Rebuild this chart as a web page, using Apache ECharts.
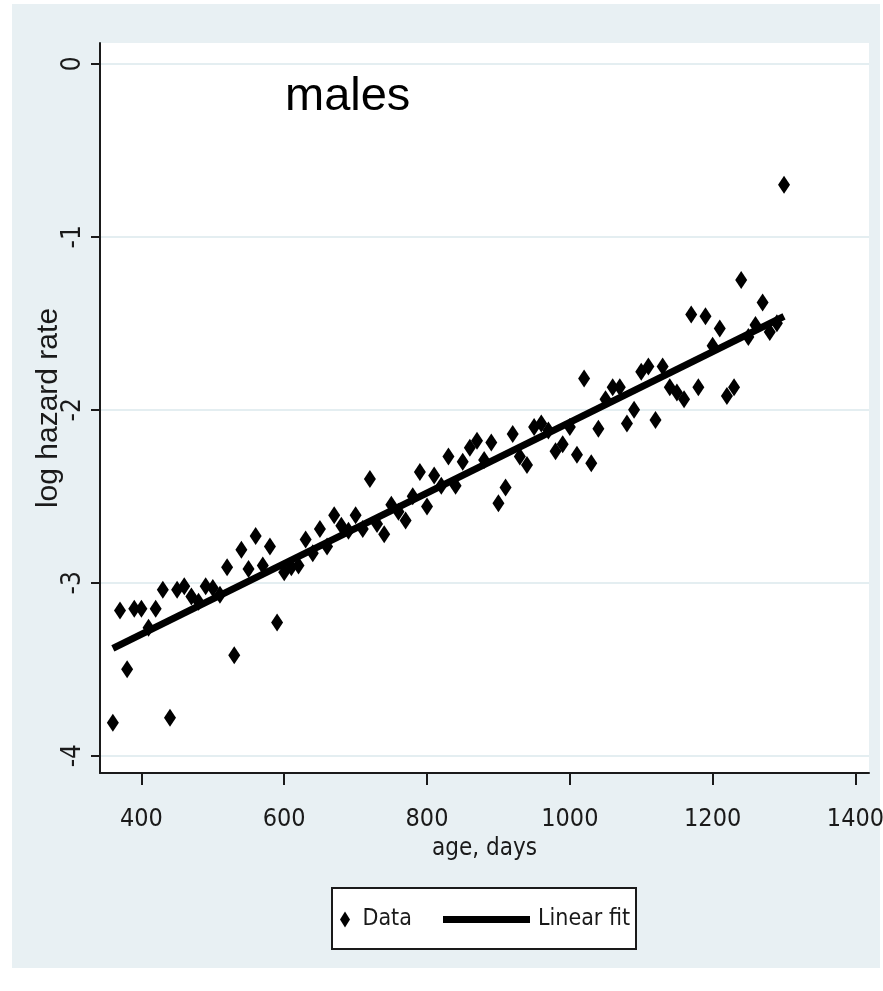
<!DOCTYPE html>
<html>
<head>
<meta charset="utf-8">
<title>log hazard rate - males</title>
<script src="https://cdn.jsdelivr.net/npm/echarts@6.0.0/dist/echarts.min.js"></script>
<style>
  html, body { margin: 0; padding: 0; background: #fff; overflow: hidden; }
  #panel { position: absolute; left: 12px; top: 4px; width: 868px; height: 964px; background: #e8f0f3; }
  #chart { position: absolute; left: 0; top: 0; width: 883px; height: 991px; }
</style>
</head>
<body>
<div id="panel"></div>
<div id="chart"></div>
<script>
// age in days (every 10 days)
var ageDays = [
  360, 370, 380, 390, 400, 410, 420, 430, 440, 450,
  460, 470, 480, 490, 500, 510, 520, 530, 540, 550,
  560, 570, 580, 590, 600, 610, 620, 630, 640, 650,
  660, 670, 680, 690, 700, 710, 720, 730, 740, 750,
  760, 770, 780, 790, 800, 810, 820, 830, 840, 850,
  860, 870, 880, 890, 900, 910, 920, 930, 940, 950,
  960, 970, 980, 990, 1000, 1010, 1020, 1030, 1040, 1050,
  1060, 1070, 1080, 1090, 1100, 1110, 1120, 1130, 1140, 1150,
  1160, 1170, 1180, 1190, 1200, 1210, 1220, 1230, 1240, 1250,
  1260, 1270, 1280, 1290, 1300
];
// log hazard rate
var logHazard = [
  -3.81, -3.16, -3.50, -3.15, -3.15, -3.26, -3.15, -3.04, -3.78, -3.04,
  -3.02, -3.08, -3.11, -3.02, -3.03, -3.07, -2.91, -3.42, -2.81, -2.92,
  -2.73, -2.90, -2.79, -3.23, -2.94, -2.91, -2.90, -2.75, -2.83, -2.69,
  -2.79, -2.61, -2.67, -2.70, -2.61, -2.69, -2.40, -2.66, -2.72, -2.55,
  -2.59, -2.64, -2.50, -2.36, -2.56, -2.38, -2.44, -2.27, -2.44, -2.30,
  -2.22, -2.18, -2.29, -2.19, -2.54, -2.45, -2.14, -2.27, -2.32, -2.10,
  -2.08, -2.12, -2.24, -2.20, -2.10, -2.26, -1.82, -2.31, -2.11, -1.94,
  -1.87, -1.87, -2.08, -2.00, -1.78, -1.75, -2.06, -1.75, -1.87, -1.90,
  -1.94, -1.45, -1.87, -1.46, -1.63, -1.53, -1.92, -1.87, -1.25, -1.58,
  -1.51, -1.38, -1.55, -1.50, -0.70
];
// fitted line end points
var fitX = [360, 1300];
var fitY = [-3.38, -1.46];

var xTicks = [400, 600, 800, 1000, 1200, 1400];
var yTicks = [-4, -3, -2, -1, 0];

var narrow = "'Liberation Sans Narrow', 'Arial Narrow', 'DejaVu Sans Condensed', sans-serif";
var regular = "'Liberation Sans', Arial, sans-serif";

var pts = [];
for (var i = 0; i < ageDays.length; i++) {
  pts.push([ageDays[i], logHazard[i]]);
}
var fitPts = [];
for (var j = 0; j < fitX.length; j++) {
  fitPts.push([fitX[j], fitY[j]]);
}

function plain(v) {
  return String(v);
}

var diamondIcon = "path://M5,0 L10,8 L5,16 L0,8 Z";

var chart = echarts.init(document.getElementById("chart"));
var option = {
  backgroundColor: "transparent",
  animation: false,
  grid: {
    left: 100,
    right: 14,
    top: 43,
    bottom: 218,
    show: true,
    backgroundColor: "#ffffff",
    borderWidth: 0,
    containLabel: false,
    outerBoundsMode: "none",
  },
  xAxis: {
    type: "value",
    min: 342,
    max: 1419,
    name: "age, days",
    nameLocation: "middle",
    nameGap: 64,
    nameMoveOverlap: false,
    nameTextStyle: { color: "#1a1a1a", fontSize: 24, fontFamily: narrow },
    axisLine: { show: true, onZero: false, lineStyle: { color: "#1a1a1a", width: 2 } },
    axisTick: { show: true, length: 12, lineStyle: { color: "#1a1a1a", width: 2 }, customValues: xTicks },
    axisLabel: { customValues: xTicks, formatter: plain, margin: 34, color: "#1a1a1a", fontSize: 25, fontFamily: narrow, hideOverlap: false },
    splitLine: { show: false },
  },
  yAxis: {
    type: "value",
    min: -4.1,
    max: 0.12,
    name: "log hazard rate",
    nameLocation: "middle",
    nameGap: 36,
    nameRotate: 90,
    nameMoveOverlap: false,
    nameTextStyle: { color: "#1a1a1a", fontSize: 30, fontFamily: regular },
    axisLine: { show: true, onZero: false, lineStyle: { color: "#1a1a1a", width: 2 } },
    axisTick: { show: true, length: 9, lineStyle: { color: "#1a1a1a", width: 2 }, customValues: yTicks },
    axisLabel: { customValues: yTicks, formatter: plain, rotate: 90, margin: 14, color: "#1a1a1a", fontSize: 26, fontFamily: narrow },
    splitLine: { show: true, lineStyle: { color: "#e4eef1", width: 2 } },
  },
  legend: [
    {
      left: 340,
      top: 908,
      padding: 0,
      itemWidth: 11,
      itemHeight: 16,
      data: [{ name: "Data", icon: diamondIcon }],
      itemStyle: { color: "#000", opacity: 1 },
      textStyle: { color: "#1a1a1a", fontSize: 23, fontFamily: narrow, padding: [0, 0, 0, 7] },
    },
    {
      left: 443,
      top: 908,
      padding: 0,
      itemWidth: 87,
      itemHeight: 7,
      data: [{ name: "Linear fit", icon: "rect" }],
      itemStyle: { color: "#000" },
      textStyle: { color: "#1a1a1a", fontSize: 23, fontFamily: narrow, padding: [0, 0, 0, 3] },
    },
  ],
  graphic: [
    {
      // legend frame
      type: "rect",
      left: 331,
      top: 887,
      z: -1,
      shape: { width: 304, height: 61 },
      style: { fill: "#ffffff", stroke: "#1a1a1a", lineWidth: 2 },
    },
    {
      type: "text",
      left: 285,
      top: 74,
      style: { text: "males", fill: "#000", font: "47px " + regular },
    },
  ],
  series: [
    {
      name: "Data",
      type: "scatter",
      data: pts,
      symbol: "diamond",
      symbolSize: [12, 18],
      itemStyle: { color: "#000000", opacity: 1 },
      z: 3,
    },
    {
      name: "Linear fit",
      type: "line",
      data: fitPts,
      symbol: "none",
      lineStyle: { color: "#000000", width: 7 },
      itemStyle: { color: "#000000" },
      z: 4,
    },
  ],
};
chart.setOption(option);
</script>
</body>
</html>
